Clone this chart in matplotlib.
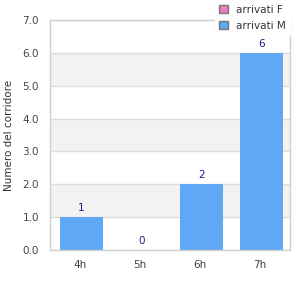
import matplotlib
matplotlib.use("Agg")
import matplotlib.pyplot as plt
from matplotlib.patches import Patch

categories = ["4h", "5h", "6h", "7h"]
arrivati_M = [1, 0, 2, 6]
arrivati_F = [0, 0, 0, 0]
yticks = [0, 1, 2, 3, 4, 5, 6, 7]

fig = plt.figure(figsize=(3, 3), dpi=100)
ax = fig.add_axes([50/300, 1-250/300, 240/300, 230/300])

for lo in range(0, 7):
    if lo % 2 == 1:
        ax.axhspan(lo, lo + 1, color="#f2f2f2", zorder=0, lw=0)
for y in yticks:
    ax.axhline(y, color="#dcdcdc", lw=1, zorder=1)

x = list(range(len(categories)))
bars = ax.bar([i + 0.02 for i in x], arrivati_M, width=0.72, color="#5fa8f5", zorder=2)
for xi, v in zip(x, arrivati_M):
    ax.text(xi + 0.02, v + 0.12, str(v), ha="center", va="bottom", fontsize=7.5, color="#1a1a8c")

ax.set_xlim(-0.5, 3.5)
ax.set_ylim(0, 7)
ax.set_xticks(x)
ax.set_xticklabels(categories)
ax.set_yticks(yticks)
ax.set_yticklabels([f"{v:.1f}" for v in yticks])
ax.tick_params(axis="both", length=0, labelsize=7.5, labelcolor="#444444")
ax.tick_params(axis="x", pad=7)
ax.tick_params(axis="y", pad=8)
for s in ax.spines.values():
    s.set_color("#d0d0d0")
    s.set_linewidth(1)
ax.set_ylabel("Numero del corridore", fontsize=7.5, color="#333333", labelpad=6)

handles = [Patch(facecolor="#f07cc0", edgecolor="#777777", label="arrivati F"),
           Patch(facecolor="#5fa8f5", edgecolor="#777777", label="arrivati M")]
leg = fig.legend(handles=handles, loc="upper left", bbox_to_anchor=(210/300, 1.015),
                 frameon=True, fontsize=7.5, handlelength=0.8, handleheight=0.8,
                 handletextpad=0.8, labelspacing=0.55, borderpad=0.4, fancybox=False)
leg.get_frame().set_edgecolor("white")
leg.get_frame().set_facecolor("white")
leg.get_frame().set_alpha(1)
for t in leg.get_texts():
    t.set_color("#333333")

fig.savefig("out.png", dpi=100)
